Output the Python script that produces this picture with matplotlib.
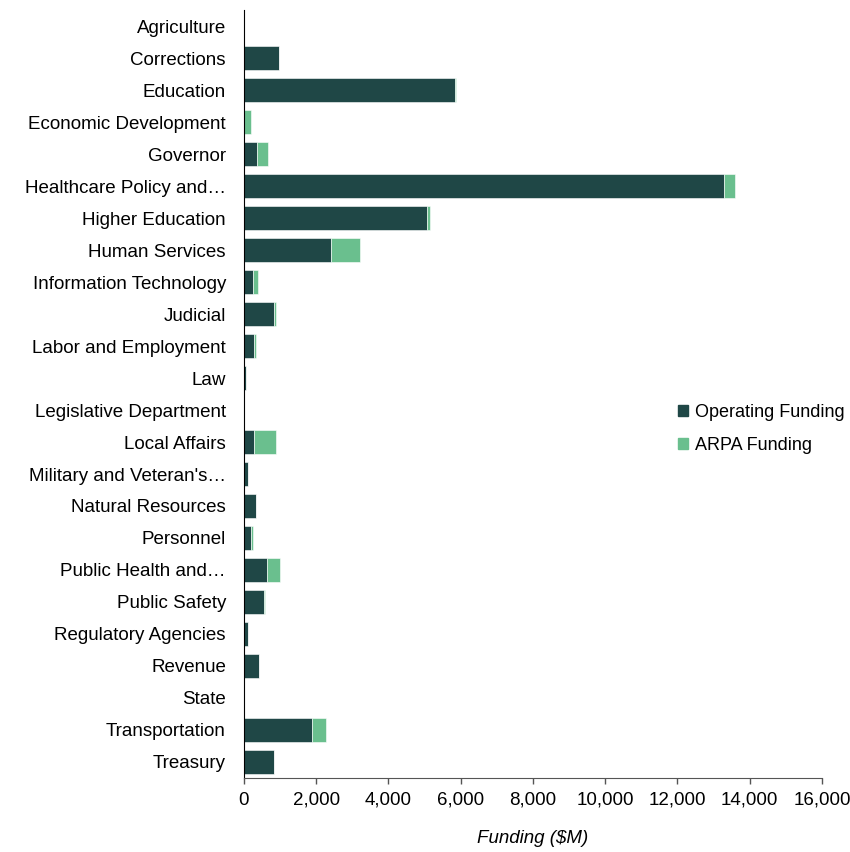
import matplotlib.pyplot as plt
from matplotlib.patches import Patch
from matplotlib.ticker import FuncFormatter

plt.rcParams['font.family'] = ['Liberation Sans', 'DejaVu Sans']

departments = [
    "Agriculture", "Corrections", "Education", "Economic Development", "Governor",
    "Healthcare Policy and\u2026", "Higher Education", "Human Services",
    "Information Technology", "Judicial", "Labor and Employment", "Law",
    "Legislative Department", "Local Affairs", "Military and Veteran's\u2026",
    "Natural Resources", "Personnel", "Public Health and\u2026", "Public Safety",
    "Regulatory Agencies", "Revenue", "State", "Transportation", "Treasury",
]
operating = [0, 970, 5840, 0, 370, 13300, 5075, 2410, 250, 840, 285, 70,
             0, 285, 110, 330, 200, 630, 545, 110, 415, 0, 1890, 840]
arpa = [0, 0, 40, 200, 300, 280, 85, 800, 130, 35, 40, 0,
        0, 590, 0, 0, 40, 380, 45, 0, 0, 0, 390, 0]

dark = "#1f4746"
green = "#6abf8e"
fs = 13.5

fig = plt.figure(figsize=(8.5, 8.52), dpi=100)
ax = fig.add_axes([0.287, 0.087, 0.68, 0.901])

y = list(range(len(departments)))
ax.barh(y, operating, height=0.75, color=dark, edgecolor="white", linewidth=0.4)
ax.barh(y, arpa, left=operating, height=0.75, color=green, edgecolor="white", linewidth=0.4)

ax.set_ylim(len(departments) - 0.5, -0.5)
ax.set_yticks(y)
ax.set_yticklabels(departments, fontsize=fs)
ax.tick_params(axis="y", length=0, pad=13)

ax.set_xlim(0, 16000)
ax.set_xticks(range(0, 16001, 2000))
ax.xaxis.set_major_formatter(FuncFormatter(lambda v, p: f"{int(v):,}"))
ax.tick_params(axis="x", labelsize=fs, length=4, width=1, color="#555555", pad=6)
ax.set_xlabel("Funding ($M)", fontsize=fs, style="italic", labelpad=15)

for s in ["top", "right"]:
    ax.spines[s].set_visible(False)
ax.spines["left"].set_color("black")
ax.spines["bottom"].set_color("#555555")

handles = [Patch(color=dark, label="Operating Funding"),
           Patch(color=green, label="ARPA Funding")]
fig.legend(handles=handles, loc="upper left", bbox_to_anchor=(0.798, 0.526),
           frameon=False, fontsize=13, handlelength=0.55, handleheight=0.55,
           handletextpad=0.35, labelspacing=0.9, borderpad=0, borderaxespad=0)

plt.savefig("out.png")
